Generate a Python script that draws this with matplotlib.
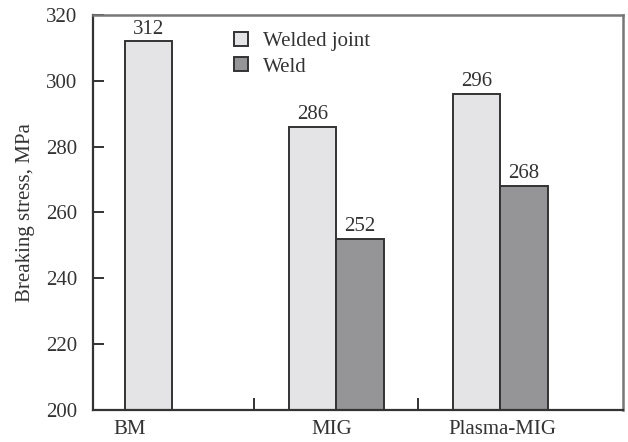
import numpy as np
import matplotlib.pyplot as plt

plt.rcParams['font.family'] = ['Liberation Serif', 'DejaVu Serif']

categories = ['BM', 'MIG', 'Plasma-MIG']
welded_joint = [312, 286, 296]
weld = [np.nan, 252, 268]

w = 0.287
x = np.arange(len(categories))
# label positions (BM label sits under its single bar)
label_x = [-0.26, 0.97, 2.01]
fs = 15

fig = plt.figure(figsize=(6.28, 4.42), dpi=100)
ax = fig.add_axes([0.148, 0.0724, 0.844, 0.894])

ax.bar(x - w/2, welded_joint, w, color='#e4e4e6', edgecolor='#333333',
       linewidth=1.4, label='Welded joint', zorder=2)
ax.bar(x + w/2, weld, w, color='#959597', edgecolor='#333333',
       linewidth=1.4, label='Weld', zorder=2)

for xi, v in zip(x - w/2, welded_joint):
    ax.text(xi, v + 0.8, f'{v}', ha='center', va='bottom', fontsize=fs, color='#333333')
for xi, v in zip(x + w/2, weld):
    if not np.isnan(v):
        ax.text(xi, v + 0.8, f'{v:.0f}', ha='center', va='bottom', fontsize=fs, color='#333333')

ax.set_ylim(200, 320)
ax.set_xlim(-0.485, 2.747)
ax.set_yticks(np.arange(200, 321, 20))
ax.tick_params(axis='y', direction='in', length=8, width=1.4, pad=11,
               labelsize=fs, colors='#333333')
ax.set_xticks(label_x)
ax.set_xticklabels(categories)
ax.tick_params(axis='x', length=0, pad=7, labelsize=fs, colors='#333333')
ax.set_xticks([0.5, 1.5], minor=True)
ax.tick_params(axis='x', which='minor', direction='in', length=9, width=1.4, color='#333333')

for s in ['left', 'bottom']:
    ax.spines[s].set_color('#333333')
    ax.spines[s].set_linewidth(1.6)
for s in ['top', 'right']:
    ax.spines[s].set_color('#777777')
    ax.spines[s].set_linewidth(1.8)

ax.set_ylabel('Breaking stress, MPa', fontsize=fs, color='#333333', labelpad=8)

ax.legend(loc='upper left', bbox_to_anchor=(0.235, 1.0), frameon=False,
          fontsize=fs, handlelength=0.67, handleheight=0.67, handletextpad=0.7,
          labelspacing=0.3, labelcolor='#333333', borderaxespad=0.4)

plt.savefig('out.png', dpi=100)
